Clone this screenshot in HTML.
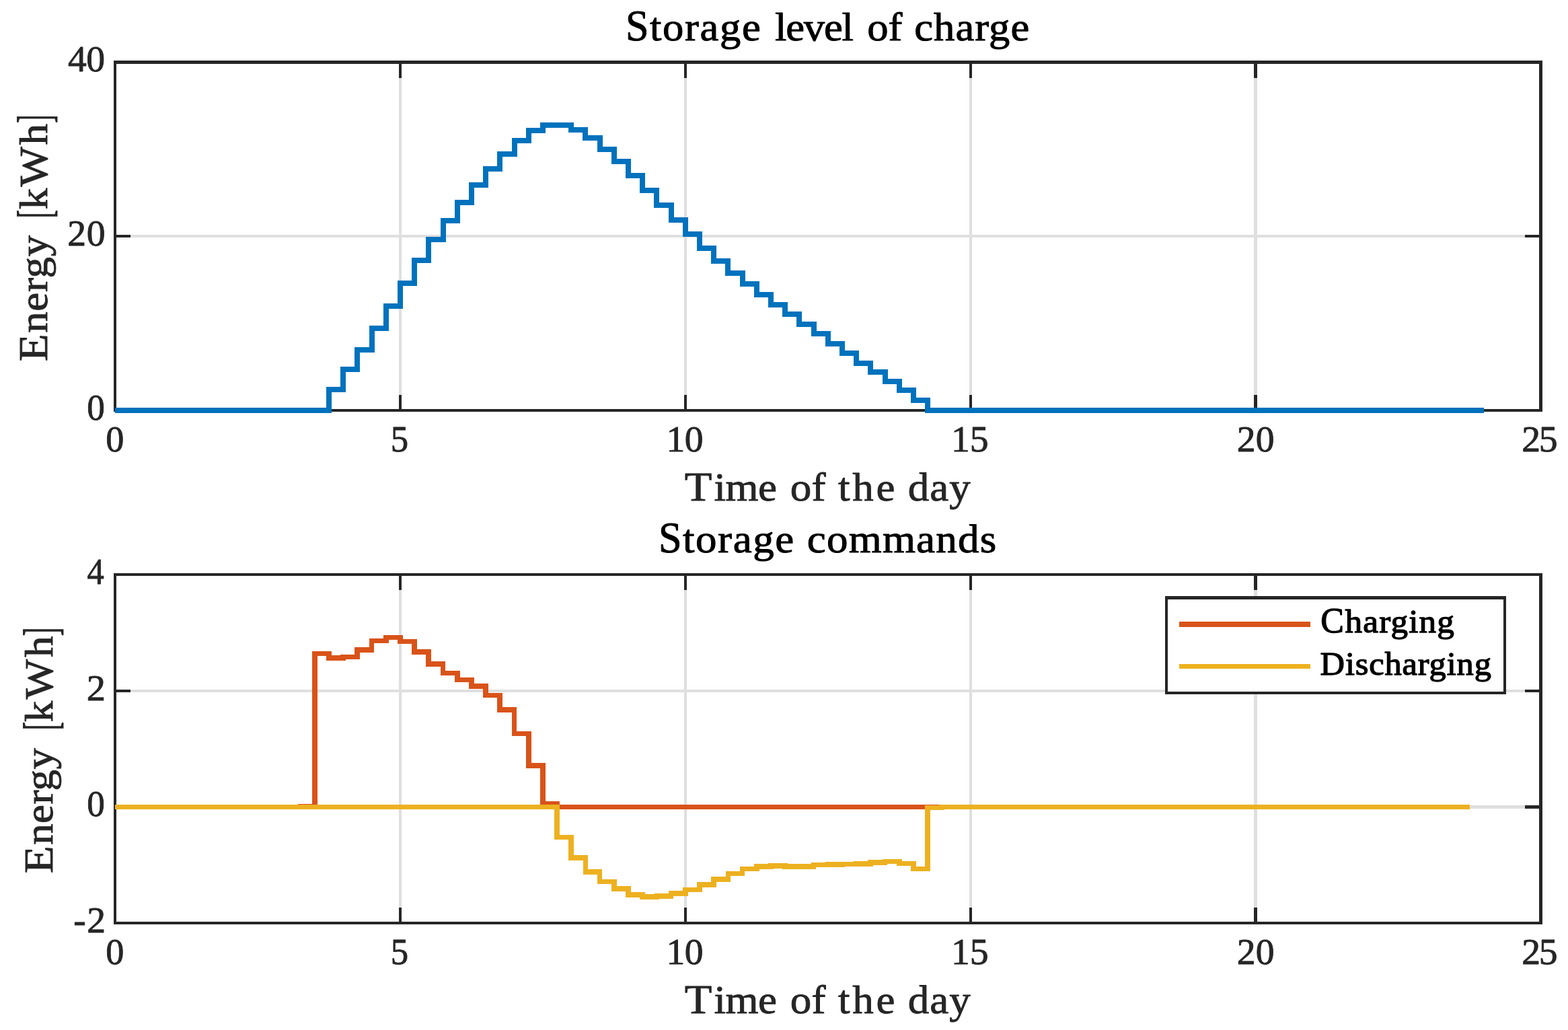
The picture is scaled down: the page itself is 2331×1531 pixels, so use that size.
<!DOCTYPE html>
<html lang="en">
<head>
<meta charset="utf-8">
<title>Storage level of charge / Storage commands</title>
<style>
html,body{margin:0;padding:0;background:#ffffff;}
body{width:2331px;height:1531px;overflow:hidden;}
svg{display:block;}
text{font-family:"Liberation Serif","DejaVu Serif",serif;}
</style>
</head>
<body>
<svg width="2331" height="1531" viewBox="0 0 2331 1531">
<rect x="0" y="0" width="2331" height="1531" fill="#ffffff"/>
<g shape-rendering="crispEdges">
<rect x="593" y="95" width="4" height="513" fill="#dfdfdf"/>
<rect x="1017" y="95" width="4" height="513" fill="#dfdfdf"/>
<rect x="1441" y="95" width="4" height="513" fill="#dfdfdf"/>
<rect x="1864" y="95" width="5" height="513" fill="#dfdfdf"/>
<rect x="173" y="349" width="2115" height="4" fill="#dfdfdf"/>
</g>
<g shape-rendering="crispEdges">
<rect x="593" y="95" width="4" height="21" fill="#262626"/>
<rect x="593" y="587" width="4" height="21" fill="#262626"/>
<rect x="1017" y="95" width="4" height="21" fill="#262626"/>
<rect x="1017" y="587" width="4" height="21" fill="#262626"/>
<rect x="1441" y="95" width="4" height="21" fill="#262626"/>
<rect x="1441" y="587" width="4" height="21" fill="#262626"/>
<rect x="1864" y="95" width="5" height="21" fill="#262626"/>
<rect x="1864" y="587" width="5" height="21" fill="#262626"/>
<rect x="173" y="349" width="21" height="4" fill="#262626"/>
<rect x="2267" y="349" width="21" height="4" fill="#262626"/>
<rect x="169" y="90" width="2124" height="5" fill="#262626"/>
<rect x="169" y="608" width="2124" height="4" fill="#262626"/>
<rect x="169" y="90" width="4" height="522" fill="#262626"/>
<rect x="2288" y="90" width="5" height="522" fill="#262626"/>
</g>
<path d="M171.0 610.0H488.9V579.0H510.1V549.4H531.3V519.5H552.5V487.9H573.7V454.6H594.9V420.5H616.1V387.0H637.3V356.1H658.5V327.7H679.7V300.6H700.9V275.1H722.1V251.1H743.3V228.6H764.5V209.0H785.7V194.0H806.9V186.1H828.0V185.6H849.2V193.0H870.4V205.4H891.6V221.5H912.8V240.1H934.0V260.6H955.2V282.6H976.4V304.6H997.6V326.5H1018.8V348.0H1040.0V368.5H1061.2V387.9H1082.4V405.5H1103.6V421.9H1124.8V437.5H1146.0V452.5H1167.2V467.0H1188.4V481.9H1209.6V496.4H1230.8V510.8H1251.9V525.0H1273.1V539.5H1294.3V553.4H1315.5V567.0H1336.7V580.4H1357.9V594.5H1379.1V610.0H2205.7" fill="none" stroke="#0072bd" stroke-width="8" stroke-linejoin="miter" shape-rendering="crispEdges"/>
<g shape-rendering="crispEdges">
<rect x="593" y="856" width="4" height="514" fill="#dfdfdf"/>
<rect x="1017" y="856" width="4" height="514" fill="#dfdfdf"/>
<rect x="1441" y="856" width="4" height="514" fill="#dfdfdf"/>
<rect x="1864" y="856" width="5" height="514" fill="#dfdfdf"/>
<rect x="173" y="1025" width="2115" height="4" fill="#dfdfdf"/>
<rect x="173" y="1197" width="2115" height="5" fill="#dfdfdf"/>
</g>
<g shape-rendering="crispEdges">
<rect x="593" y="856" width="4" height="21" fill="#262626"/>
<rect x="593" y="1349" width="4" height="21" fill="#262626"/>
<rect x="1017" y="856" width="4" height="21" fill="#262626"/>
<rect x="1017" y="1349" width="4" height="21" fill="#262626"/>
<rect x="1441" y="856" width="4" height="21" fill="#262626"/>
<rect x="1441" y="1349" width="4" height="21" fill="#262626"/>
<rect x="1864" y="856" width="5" height="21" fill="#262626"/>
<rect x="1864" y="1349" width="5" height="21" fill="#262626"/>
<rect x="173" y="1025" width="21" height="4" fill="#262626"/>
<rect x="2267" y="1025" width="21" height="4" fill="#262626"/>
<rect x="173" y="1197" width="21" height="5" fill="#262626"/>
<rect x="2267" y="1197" width="21" height="5" fill="#262626"/>
<rect x="169" y="852" width="2124" height="4" fill="#262626"/>
<rect x="169" y="1370" width="2124" height="4" fill="#262626"/>
<rect x="169" y="852" width="4" height="522" fill="#262626"/>
<rect x="2288" y="852" width="5" height="522" fill="#262626"/>
</g>
<path d="M171.0 1199.5H446.5V1198.4H467.7V971.4H488.9V978.3H510.1V976.5H531.3V965.9H552.5V952.6H573.7V947.5H594.9V953.4H616.1V969.0H637.3V986.9H658.5V1000.6H679.7V1010.5H700.9V1020.0H722.1V1033.6H743.3V1054.9H764.5V1090.5H785.7V1138.0H806.9V1195.0H828.0V1199.5H2184.5" fill="none" stroke="#d95319" stroke-width="7.7" stroke-linejoin="miter" shape-rendering="crispEdges"/>
<path d="M171.0 1199.5H828.0V1244.5H849.2V1275.0H870.4V1296.2H891.6V1310.6H912.8V1321.0H934.0V1330.2H955.2V1333.0H976.4V1331.8H997.6V1328.2H1018.8V1322.5H1040.0V1315.0H1061.2V1306.7H1082.4V1298.6H1103.6V1291.6H1124.8V1287.9H1146.0V1286.9H1167.2V1288.0H1188.4V1288.0H1209.6V1285.6H1230.8V1284.8H1251.9V1284.5H1273.1V1283.8H1294.3V1281.7H1315.5V1280.6H1336.7V1283.6H1357.9V1291.6H1379.1V1200.5H1400.3V1199.5H2184.5" fill="none" stroke="#edb120" stroke-width="7.7" stroke-linejoin="miter" shape-rendering="crispEdges"/>
<g shape-rendering="crispEdges">
<rect x="1732" y="886" width="507" height="146" fill="#262626"/>
<rect x="1736" y="891" width="499" height="137" fill="#ffffff"/>
<rect x="1753" y="924" width="195" height="8" fill="#d95319"/>
<rect x="1753" y="987" width="195" height="7" fill="#edb120"/>
</g>
<g>
<text transform="translate(0 59.70) scale(1.045 1)" font-size="60" fill="#000000" stroke="#000000" stroke-width="1" stroke-linejoin="round"><tspan x="889.88" y="0" font-size="64.5" textLength="32.98" lengthAdjust="spacingAndGlyphs">S</tspan><tspan x="924.40" y="0" textLength="157.78" lengthAdjust="spacing">torage</tspan> <tspan x="1102.49" y="0" textLength="111.74" lengthAdjust="spacing">level</tspan> <tspan x="1233.68" y="0" textLength="50.06" lengthAdjust="spacing">of</tspan> <tspan x="1300.67" y="0" textLength="163.76" lengthAdjust="spacing">charge</tspan></text>
<text transform="translate(0 820.80) scale(1.05 1)" font-size="60" fill="#000000" stroke="#000000" stroke-width="1" stroke-linejoin="round"><tspan x="932.27" y="0" font-size="64.5" textLength="32.91" lengthAdjust="spacingAndGlyphs">S</tspan><tspan x="966.67" y="0" textLength="157.33" lengthAdjust="spacing">torage</tspan> <tspan x="1142.59" y="0" textLength="268.18" lengthAdjust="spacing">commands</tspan></text>
<text transform="translate(0 743.55) scale(1.05 1)" font-size="60" fill="#262626" stroke="#262626" stroke-width="0.9" stroke-linejoin="round"><tspan x="969.18" y="0" font-size="61.8" textLength="38.66" lengthAdjust="spacingAndGlyphs">T</tspan><tspan x="1011.01" y="0" textLength="88.96" lengthAdjust="spacing">ime</tspan> <tspan x="1118.78" y="0" textLength="50.33" lengthAdjust="spacing">of</tspan> <tspan x="1186.63" y="0" textLength="80.40" lengthAdjust="spacing">the</tspan> <tspan x="1285.41" y="0" textLength="88.64" lengthAdjust="spacing">day</tspan></text>
<text transform="translate(0 1505.55) scale(1.05 1)" font-size="60" fill="#262626" stroke="#262626" stroke-width="0.9" stroke-linejoin="round"><tspan x="969.18" y="0" font-size="61.8" textLength="38.66" lengthAdjust="spacingAndGlyphs">T</tspan><tspan x="1011.01" y="0" textLength="88.96" lengthAdjust="spacing">ime</tspan> <tspan x="1118.78" y="0" textLength="50.33" lengthAdjust="spacing">of</tspan> <tspan x="1186.63" y="0" textLength="80.40" lengthAdjust="spacing">the</tspan> <tspan x="1285.41" y="0" textLength="88.64" lengthAdjust="spacing">day</tspan></text>
<text transform="translate(69.60 0) rotate(-90) scale(1.05 1)" font-size="60" fill="#262626" stroke="#262626" stroke-width="0.9" stroke-linejoin="round"><tspan x="-511.70" y="0" font-size="61.8" textLength="39.00" lengthAdjust="spacingAndGlyphs">E</tspan><tspan x="-471.31" y="0" textLength="138.27" lengthAdjust="spacing">nergy</tspan> <tspan x="-308.80" y="5.2" font-size="72.7" textLength="11.82" lengthAdjust="spacingAndGlyphs">[</tspan><tspan x="-296.53" y="0" textLength="121.27" lengthAdjust="spacing">kWh</tspan><tspan x="-174.23" y="5.2" font-size="72.7" textLength="12.02" lengthAdjust="spacingAndGlyphs">]</tspan></text>
<text transform="translate(78.45 0) rotate(-90) scale(1.05 1)" font-size="60" fill="#262626" stroke="#262626" stroke-width="0.9" stroke-linejoin="round"><tspan x="-1236.51" y="0" font-size="61.8" textLength="39.00" lengthAdjust="spacingAndGlyphs">E</tspan><tspan x="-1196.04" y="0" textLength="136.95" lengthAdjust="spacing">nergy</tspan> <tspan x="-1033.56" y="5.2" font-size="72.7" textLength="11.82" lengthAdjust="spacingAndGlyphs">[</tspan><tspan x="-1022.25" y="0" textLength="121.78" lengthAdjust="spacing">kWh</tspan><tspan x="-900.40" y="5.2" font-size="72.7" textLength="12.15" lengthAdjust="spacingAndGlyphs">]</tspan></text>
<text transform="translate(0 940.15) scale(1.045 1)" font-size="49" fill="#000000" stroke="#000000" stroke-width="1.3" stroke-linejoin="round"><tspan x="1878.68" y="0" font-size="53.3" textLength="33.16" lengthAdjust="spacingAndGlyphs">C</tspan><tspan x="1913.42" y="0" textLength="155.43" lengthAdjust="spacing">harging</tspan></text>
<text transform="translate(0 1002.65) scale(1.03 1)" font-size="49" fill="#000000" stroke="#000000" stroke-width="1.3" stroke-linejoin="round"><tspan x="1905.42" y="0" textLength="246.89" lengthAdjust="spacing">Discharging</tspan></text>
<text transform="translate(0 671.00)" font-size="55.6" fill="#262626" stroke="#262626" stroke-width="0.9" stroke-linejoin="round"><tspan x="157.14" y="0" textLength="27.11" lengthAdjust="spacingAndGlyphs">0</tspan></text>
<text transform="translate(0 671.00)" font-size="55.6" fill="#262626" stroke="#262626" stroke-width="0.9" stroke-linejoin="round"><tspan x="580.82" y="0" textLength="26.36" lengthAdjust="spacingAndGlyphs">5</tspan></text>
<text transform="translate(0 671.00)" font-size="55.6" fill="#262626" stroke="#262626" stroke-width="0.9" stroke-linejoin="round"><tspan x="990.54" y="0" textLength="55.03" lengthAdjust="spacing">10</tspan></text>
<text transform="translate(0 671.00)" font-size="55.6" fill="#262626" stroke="#262626" stroke-width="0.9" stroke-linejoin="round"><tspan x="1414.02" y="0" textLength="55.59" lengthAdjust="spacing">15</tspan></text>
<text transform="translate(0 671.00)" font-size="55.6" fill="#262626" stroke="#262626" stroke-width="0.9" stroke-linejoin="round"><tspan x="1838.72" y="0" textLength="55.95" lengthAdjust="spacing">20</tspan></text>
<text transform="translate(0 671.00)" font-size="55.6" fill="#262626" stroke="#262626" stroke-width="0.9" stroke-linejoin="round"><tspan x="2262.20" y="0" textLength="53.43" lengthAdjust="spacing">25</tspan></text>
<text transform="translate(0 1433.00)" font-size="55.6" fill="#262626" stroke="#262626" stroke-width="0.9" stroke-linejoin="round"><tspan x="157.14" y="0" textLength="27.11" lengthAdjust="spacingAndGlyphs">0</tspan></text>
<text transform="translate(0 1433.00)" font-size="55.6" fill="#262626" stroke="#262626" stroke-width="0.9" stroke-linejoin="round"><tspan x="580.82" y="0" textLength="26.36" lengthAdjust="spacingAndGlyphs">5</tspan></text>
<text transform="translate(0 1433.00)" font-size="55.6" fill="#262626" stroke="#262626" stroke-width="0.9" stroke-linejoin="round"><tspan x="990.54" y="0" textLength="55.03" lengthAdjust="spacing">10</tspan></text>
<text transform="translate(0 1433.00)" font-size="55.6" fill="#262626" stroke="#262626" stroke-width="0.9" stroke-linejoin="round"><tspan x="1414.02" y="0" textLength="55.59" lengthAdjust="spacing">15</tspan></text>
<text transform="translate(0 1433.00)" font-size="55.6" fill="#262626" stroke="#262626" stroke-width="0.9" stroke-linejoin="round"><tspan x="1838.72" y="0" textLength="55.95" lengthAdjust="spacing">20</tspan></text>
<text transform="translate(0 1433.00)" font-size="55.6" fill="#262626" stroke="#262626" stroke-width="0.9" stroke-linejoin="round"><tspan x="2262.20" y="0" textLength="53.43" lengthAdjust="spacing">25</tspan></text>
<text transform="translate(0 106.00)" font-size="55.6" fill="#262626" stroke="#262626" stroke-width="0.9" stroke-linejoin="round"><tspan x="101.08" y="0" textLength="54.87" lengthAdjust="spacing">40</tspan></text>
<text transform="translate(0 365.00)" font-size="55.6" fill="#262626" stroke="#262626" stroke-width="0.9" stroke-linejoin="round"><tspan x="100.26" y="0" textLength="56.31" lengthAdjust="spacing">20</tspan></text>
<text transform="translate(0 624.00)" font-size="55.6" fill="#262626" stroke="#262626" stroke-width="0.9" stroke-linejoin="round"><tspan x="129.20" y="0" textLength="26.52" lengthAdjust="spacingAndGlyphs">0</tspan></text>
<text transform="translate(0 868.00)" font-size="55.6" fill="#262626" stroke="#262626" stroke-width="0.9" stroke-linejoin="round"><tspan x="129.56" y="0" textLength="25.26" lengthAdjust="spacingAndGlyphs">4</tspan></text>
<text transform="translate(0 1041.00)" font-size="55.6" fill="#262626" stroke="#262626" stroke-width="0.9" stroke-linejoin="round"><tspan x="128.74" y="0" textLength="28.17" lengthAdjust="spacingAndGlyphs">2</tspan></text>
<text transform="translate(0 1213.00)" font-size="55.6" fill="#262626" stroke="#262626" stroke-width="0.9" stroke-linejoin="round"><tspan x="129.20" y="0" textLength="26.52" lengthAdjust="spacingAndGlyphs">0</tspan></text>
<text transform="translate(0 1386.00)" font-size="55.6" fill="#262626" stroke="#262626" stroke-width="0.9" stroke-linejoin="round"><tspan x="109.20" y="0" textLength="47.75" lengthAdjust="spacing">-2</tspan></text>
</g>
</svg>
</body>
</html>
